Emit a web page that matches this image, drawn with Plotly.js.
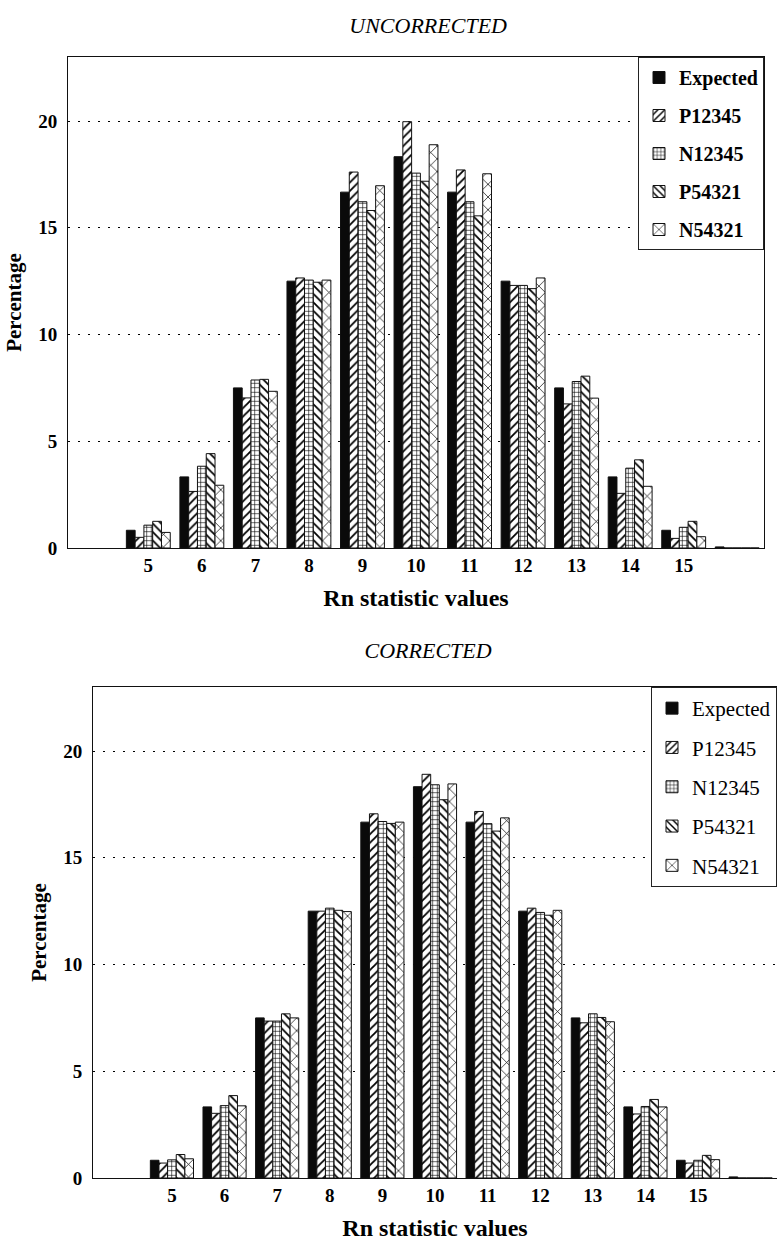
<!DOCTYPE html>
<html>
<head>
<meta charset="utf-8">
<script src="https://cdn.plot.ly/plotly-3.0.1.min.js"></script>
<style>
  .main-svg text { font-family: "Liberation Serif", serif !important; }
</style>
</head>
<body style="margin:0">
<div id="chartU"></div>
<div id="chartC"></div>
<script>
// ---- data ----
const CATEGORIES = [5, 6, 7, 8, 9, 10, 11, 12, 13, 14, 15, 16];
const TICK_VALUES = [5, 6, 7, 8, 9, 10, 11, 12, 13, 14, 15];
const TICK_LABELS = ["5", "6", "7", "8", "9", "10", "11", "12", "13", "14", "15"];
const SERIES_NAMES = ["Expected", "P12345", "N12345", "P54321", "N54321"];

const EXPECTED = [0.83, 3.33, 7.50, 12.50, 16.67, 18.33, 16.67, 12.50, 7.50, 3.33, 0.83, 0.05];

// UNCORRECTED
const U_P12345 = [0.50, 2.65, 7.03, 12.65, 17.61, 19.97, 17.71, 12.30, 6.75, 2.56, 0.45, 0];
const U_N12345 = [1.07, 3.83, 7.87, 12.55, 16.22, 17.56, 16.22, 12.30, 7.80, 3.74, 0.97, 0];
const U_P54321 = [1.25, 4.42, 7.90, 12.45, 15.81, 17.18, 15.56, 12.15, 8.05, 4.13, 1.25, 0];
const U_N54321 = [0.73, 2.94, 7.34, 12.55, 16.97, 18.89, 17.53, 12.65, 7.02, 2.89, 0.53, 0];

// CORRECTED
const C_P12345 = [0.70, 3.03, 7.35, 12.50, 17.06, 18.91, 17.17, 12.64, 7.27, 3.00, 0.70, 0];
const C_N12345 = [0.85, 3.39, 7.35, 12.64, 16.70, 18.42, 16.60, 12.44, 7.69, 3.35, 0.83, 0];
const C_P54321 = [1.10, 3.86, 7.69, 12.54, 16.61, 17.72, 16.25, 12.31, 7.52, 3.68, 1.06, 0];
const C_N54321 = [0.90, 3.38, 7.50, 12.48, 16.67, 18.46, 16.87, 12.54, 7.32, 3.33, 0.86, 0];

// ---- styles ----
const serifFam = "Liberation Serif";
const PATTERNS = [
  null,
  {shape: "/", size: 6, solidity: 0.3},
  {shape: "+", size: 4.5, solidity: 0.25},
  {shape: "\\", size: 6, solidity: 0.3},
  {shape: "x", size: 9, solidity: 0.15}
];

function makeTraces(seriesList) {
  return seriesList.map((vals, i) => {
    const marker = {line: {color: "#111", width: 1}};
    if (PATTERNS[i] === null) {
      marker.color = "#0a0a0a";
    } else {
      marker.color = "#ffffff";
      marker.pattern = Object.assign({fgcolor: "#000", bgcolor: "#fff", fillmode: "replace"}, PATTERNS[i]);
    }
    return {
      type: "bar",
      x: CATEGORIES,
      y: vals,
      name: SERIES_NAMES[i],
      legendgroup: "g" + i,
      marker: marker
    };
  });
}

function makeLayout(opts) {
  return {
    width: 777,
    height: 625,
    margin: opts.margin,
    paper_bgcolor: "#fff",
    plot_bgcolor: "#fff",
    font: {family: serifFam, color: "#000"},
    barmode: "group",
    bargap: 0.18,
    bargroupgap: 0,
    showlegend: true,
    title: {
      text: opts.title,
      font: {family: serifFam, size: 22, style: "italic", color: "#000"},
      x: 0.551, xref: "container", xanchor: "center",
      y: 1 - 25 / 625, yref: "container", yanchor: "middle"
    },
    legend: {
      x: 1, xanchor: "right", y: 1, yanchor: "top",
      bgcolor: "#fff", bordercolor: "#222", borderwidth: 1,
      font: {family: serifFam, size: opts.legendSize, weight: opts.legendWeight, color: "#000"},
      tracegroupgap: 9,
      traceorder: "grouped"
    },
    xaxis: {
      range: [3.5, 16.5],
      tickmode: "array",
      tickvals: TICK_VALUES,
      ticktext: TICK_LABELS,
      ticks: "",
      showgrid: false,
      zeroline: false,
      showline: true, mirror: true, linecolor: "#111", linewidth: 1,
      tickfont: {family: serifFam, size: 19, weight: "bold", color: "#000"},
      title: {text: "Rn statistic values", font: {family: serifFam, size: 24, weight: "bold", color: "#000"}, standoff: 14},
      fixedrange: true
    },
    yaxis: {
      range: [0, 23],
      tickmode: "array",
      tickvals: [0, 5, 10, 15, 20],
      ticktext: ["0", "5", "10", "15", "20"],
      ticks: "",
      ticklabelstandoff: 6,
      showgrid: true, gridcolor: "#000", gridwidth: 1, griddash: "2px,8px",
      zeroline: false,
      showline: true, mirror: true, linecolor: "#111", linewidth: 1,
      tickfont: {family: serifFam, size: 19, weight: "bold", color: "#000"},
      title: {text: "Percentage", font: {family: serifFam, size: 21, weight: "bold", color: "#000"}, standoff: 10},
      fixedrange: true
    }
  };
}

Plotly.newPlot("chartU",
  makeTraces([EXPECTED, U_P12345, U_N12345, U_P54321, U_N54321]),
  makeLayout({title: "UNCORRECTED", margin: {l: 68, r: 13, t: 57, b: 77}, legendSize: 20, legendWeight: "bold"}),
  {staticPlot: true});

Plotly.newPlot("chartC",
  makeTraces([EXPECTED, C_P12345, C_N12345, C_P54321, C_N54321]),
  makeLayout({title: "CORRECTED", margin: {l: 93, r: 0, t: 62, b: 72}, legendSize: 21, legendWeight: "normal"}),
  {staticPlot: true});
</script>
</body>
</html>
